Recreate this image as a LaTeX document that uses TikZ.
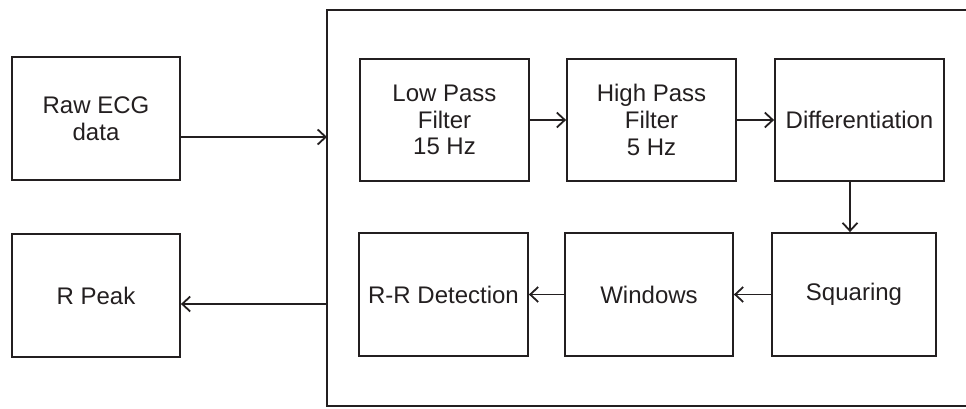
\documentclass[tikz,border=0pt]{standalone}
\usepackage{fontspec}
\setmainfont{Liberation Sans}
\usetikzlibrary{arrows.meta}
\definecolor{ink}{HTML}{231F20}
\begin{document}
\begin{tikzpicture}[x=1pt,y=-1pt,
  blk/.style={draw=ink, line width=1.8pt, text=ink, align=center, inner sep=0pt,
    font=\fontsize{24}{26.7}\selectfont},
  conn/.style={draw=ink, line width=1.8pt, -{Straight Barb[length=8pt,width=15pt,line width=1.8pt]}}]
\useasboundingbox (0,0) rectangle (966,409);
% container (open to the right, beyond the picture edge)
\draw[ink, line width=1.8pt] (975,10) -- (327,10) -- (327,406) -- (975,406);
\coordinate (cin) at (327,137);
\coordinate (cout) at (327,304);
% outer boxes
\node[blk, minimum width=168pt, minimum height=123pt] (raw) at (96,118.5) {Raw ECG\\data};
\node[blk, minimum width=168pt, minimum height=123pt] (rpeak) at (96,295.5) {R Peak};
% inner boxes, top row
\node[blk, minimum width=169pt, minimum height=122pt] (lp) at (444.5,120) {Low Pass\\Filter\\15 Hz};
\node[blk, minimum width=169pt, minimum height=122pt] (hp) at (651.5,120) {High Pass\\Filter\\5 Hz};
\node[blk, minimum width=169pt, minimum height=122pt] (diff) at (859.5,120) {Differentiation};
% inner boxes, bottom row
\node[blk, minimum width=169pt, minimum height=123pt] (rr) at (443.5,294.5) {R-R Detection};
\node[blk, minimum width=168pt, minimum height=123pt] (win) at (649,294.5) {Windows};
\node[blk, minimum width=164pt, minimum height=123pt] (sq) at (854,294.5) {Squaring};
% connectors
\draw[conn] (raw.east |- cin) -- (cin);
\draw[conn] (cout) -- (cout -| rpeak.east);
\draw[conn] (lp.east) -- (hp.west);
\draw[conn] (hp.east) -- (diff.west);
\draw[conn] ([xshift=-4pt]diff.south -| sq.north) -- ([xshift=-4pt]sq.north);
\draw[conn] (sq.west) -- (win.east);
\draw[conn] (win.west) -- (rr.east);
\end{tikzpicture}
\end{document}
